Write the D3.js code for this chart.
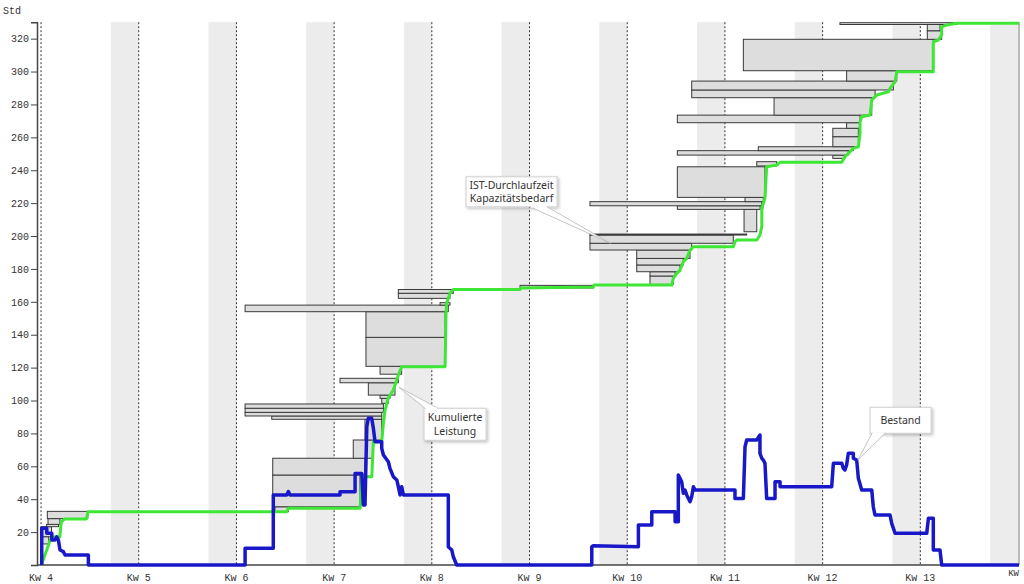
<!DOCTYPE html>
<html>
<head>
<meta charset="utf-8">
<script src="https://cdn.jsdelivr.net/npm/d3@7"></script>
<style>
  body { margin: 0; background: #fff; }
  svg { display: block; }
</style>
</head>
<body>
<div id="chart"></div>
<script>
// Kalenderwochen (Montag 0:00), x in Tagen ab Kw 4
const weeks = [4, 5, 6, 7, 8, 9, 10, 11, 12, 13];
const yTicks = [20, 40, 60, 80, 100, 120, 140, 160, 180, 200, 220, 240, 260, 280, 300, 320];

// Kumulierte Leistung [Tag, Std]
const leistung = [
  [0.02, 0], [0.74, 17], [1.34, 17], [1.45, 26.3], [1.7, 28], [3.25, 28], [3.37, 32.4],
  [17.6, 32.4], [17.72, 34.5], [22.86, 34.5], [22.98, 53.7], [23.7, 53.7], [23.81, 75],
  [24.41, 75], [24.53, 86.3], [24.65, 94.2], [24.88, 101.5], [25.24, 106.4], [25.49, 112.5],
  [25.6, 115.5], [25.84, 120.5], [28.95, 120.5], [29.02, 154], [29.07, 159.3], [29.3, 165.3],
  [29.54, 167.5], [34.32, 167.5], [34.39, 168.4], [39.57, 169], [39.62, 170.2], [45.19, 170.2],
  [45.3, 174.3], [45.55, 177.3], [45.78, 179.3], [46.02, 184.4], [46.26, 186.4], [46.5, 191.5],
  [46.74, 193.5], [49.6, 193.5], [49.72, 196.5], [49.85, 197.6], [51.28, 197.6], [51.51, 200.6],
  [51.64, 205.7], [51.64, 215.8], [51.75, 219.9], [51.87, 222.9], [51.99, 242.1], [52.71, 243.2],
  [52.95, 244.8], [57.37, 244.8], [57.6, 248.2], [57.96, 251.2], [58.2, 253.3], [58.56, 254.3],
  [58.68, 262.4], [58.68, 269.5], [58.8, 272.5], [59.4, 273.6], [59.52, 282.7], [59.88, 285.7],
  [60.71, 287.7], [60.83, 289.8], [61.19, 293.8], [61.31, 299.9], [63.93, 299.9], [63.93, 318.1],
  [64.29, 319.1], [64.53, 322.2], [64.53, 327.2], [64.89, 328.3], [65.6, 329.3], [70.07, 329.3]
];

// Bestand [Tag, Std]
const bestand = [
  [0.05, 0], [0.05, 22.3], [0.41, 22.3], [0.41, 19.3], [0.77, 19.3], [0.77, 15.2], [1.0, 15.2],
  [1.12, 17.2], [1.24, 15.2], [1.36, 9.1], [1.6, 8.1], [1.72, 6.1], [3.39, 6.1], [3.39, 0],
  [14.62, 0], [14.62, 10.2], [16.64, 10.2], [16.64, 42.6], [17.6, 42.6], [17.72, 44.6],
  [17.84, 42.6], [21.42, 42.6], [21.42, 44.6], [22.5, 44.6], [22.5, 55.7], [22.98, 55.7],
  [23.09, 36.5], [23.21, 36.5], [23.34, 84.1], [23.45, 89.2], [23.69, 89.2], [23.81, 83.1],
  [23.93, 75], [24.41, 75], [24.41, 70.9], [24.53, 66.9], [24.88, 62.8], [25.0, 58.8],
  [25.24, 53.7], [25.49, 51.7], [25.6, 47.6], [25.72, 42.6], [25.84, 47.6], [25.96, 42.6],
  [29.18, 42.6], [29.18, 11.1], [29.43, 9.1], [29.54, 5], [29.78, 0], [39.46, 0],
  [39.46, 11.1], [39.57, 11.7], [42.8, 11.1], [42.8, 24.3], [43.76, 24.3], [43.76, 32.4],
  [45.43, 32.4], [45.43, 26.3], [45.66, 26.3], [45.66, 54.7], [45.78, 52.7], [45.9, 50.6],
  [46.02, 43.6], [46.14, 45.6], [46.26, 42.6], [46.5, 38.5], [46.62, 41.5], [46.74, 47.6],
  [46.86, 45.6], [49.72, 45.6], [49.72, 40.5], [50.32, 40.5], [50.44, 71.9], [50.56, 76],
  [51.28, 76], [51.51, 79], [51.51, 67.9], [51.64, 64.9], [51.75, 63.8], [51.87, 61.8],
  [51.99, 40.5], [52.59, 40.5], [52.59, 50.6], [52.95, 50.6], [52.95, 47.6], [56.65, 47.6],
  [56.77, 61.8], [57.37, 61.8], [57.48, 58.8], [57.6, 57.8], [57.72, 60.8], [57.84, 67.9],
  [58.2, 67.9], [58.2, 64.9], [58.44, 63.8], [58.56, 52.7], [58.8, 45.6], [59.52, 45.6],
  [59.63, 35.4], [59.75, 30.4], [60.83, 30.4], [60.95, 25.3], [61.19, 19.3], [63.46, 19.3],
  [63.58, 28.4], [63.93, 28.4], [63.93, 9.1], [64.41, 9.1], [64.53, 0], [70.07, 0]
];

// IST-Durchlaufzeit / Kapazitätsbedarf je Auftrag: [Start, Ende, Std von, Std bis]
const auftraege = [
  [0.0, 0.55, 12.8, 17.2], [0.0, 0.75, 17.2, 23.3], [0.4, 1.25, 23.3, 24.7],
  [0.5, 1.35, 24.7, 28.2], [0.45, 3.35, 28.2, 32.6],
  [16.76, 17.72, 32.4, 35.4], [16.6, 22.85, 35.4, 54.7], [16.6, 23.21, 54.7, 64.9],
  [22.37, 23.8, 64.9, 76], [23.21, 24.41, 76, 88.6], [16.53, 24.41, 88.6, 90.6],
  [14.62, 24.41, 90.6, 92.8], [14.62, 24.53, 92.8, 95.3], [14.62, 24.53, 95.3, 97.9],
  [24.41, 24.88, 98.3, 101.3], [24.29, 25.0, 101.3, 103.3], [23.45, 25.36, 103.3, 110.8],
  [21.42, 25.6, 110.8, 113.5], [24.29, 25.84, 116, 120.8], [23.28, 28.95, 120.8, 138.4],
  [23.28, 28.95, 138.4, 154], [14.62, 29.18, 154, 158], [28.59, 29.3, 158, 159.5],
  [25.6, 29.3, 162.1, 165.2], [25.6, 29.54, 165.2, 167.5],
  [34.32, 39.57, 168.4, 170],
  [43.63, 45.3, 170.6, 175.7], [43.63, 45.43, 175.7, 178.3], [42.68, 45.78, 178.3, 182.4],
  [42.68, 46.02, 182.4, 186.4], [42.68, 46.5, 186.4, 191.5], [39.33, 46.62, 191.5, 195.6],
  [39.33, 49.6, 195.6, 200.6], [39.33, 50.56, 200.6, 201.2], [50.37, 51.28, 202.6, 216.2],
  [45.59, 51.52, 216.2, 218.4], [39.33, 51.64, 218.4, 220.9], [50.44, 51.75, 220.9, 223.5],
  [45.59, 51.87, 223.5, 242.1], [51.28, 52.71, 242.6, 245.2],
  [56.73, 57.6, 247.2, 249.2], [45.59, 57.84, 249.2, 251.9], [51.39, 58.2, 251.9, 254.3],
  [56.73, 58.56, 254.3, 260.4], [56.73, 58.56, 260.4, 265.5], [57.72, 58.68, 265.5, 268.9],
  [45.59, 58.68, 268.9, 273.5], [52.52, 59.52, 273.5, 284.1], [46.62, 59.76, 284.1, 288.8],
  [46.62, 61.07, 288.8, 294.2], [57.72, 61.31, 294.2, 300.5], [50.32, 63.93, 300.5, 319.6],
  [63.5, 64.53, 319.6, 324.8], [63.5, 64.41, 324.8, 328.6], [57.24, 65.6, 328.6, 329.7]
];

// Beschriftungen: Text, Box (Tag/Std links oben, Breite/Höhe in px), Spitze [Tag, Std]
const callouts = [
  { lines: ["IST-Durchlaufzeit", "Kapazitätsbedarf"], at: [30.45, 236], w: 91, h: 30, tip: [40.8, 195.6], base: [64, 81] },
  { lines: ["Kumulierte", "Leistung"], at: [27.44, 95.3], w: 62, h: 32, tip: [25.65, 108], base: [1, 14], top: true },
  { lines: ["Bestand"], at: [59.4, 95.9], w: 61, h: 26, tip: [58.52, 63.8], base: [2, 15] }
];

const width = 1024, height = 584;
const x = d3.scaleLinear().domain([-0.29, 70.07]).range([37, 1019]);
const y = d3.scaleLinear().domain([0, 330]).range([565, 22.2]);

const svg = d3.select("#chart").append("svg")
  .attr("width", width)
  .attr("height", height);

const defs = svg.append("defs");
defs.append("filter").attr("id", "shadow")
  .attr("x", "-20%").attr("y", "-20%").attr("width", "150%").attr("height", "160%")
  .append("feDropShadow")
  .attr("dx", 1.5).attr("dy", 1.5).attr("stdDeviation", 1.5)
  .attr("flood-color", "#000").attr("flood-opacity", 0.25);

const plotTop = y(330), plotBottom = y(0);

// Wochenende grau
svg.append("g").selectAll("rect")
  .data(weeks)
  .enter()
  .append("rect")
  .attr("x", w => x((w - 4) * 7 + 5))
  .attr("y", plotTop)
  .attr("width", w => x((w - 4) * 7 + 7) - x((w - 4) * 7 + 5))
  .attr("height", plotBottom - plotTop)
  .attr("fill", "#ececec");

// Wochenlinien gepunktet
svg.append("g").selectAll("line")
  .data(weeks)
  .enter()
  .append("line")
  .attr("x1", w => x((w - 4) * 7))
  .attr("x2", w => x((w - 4) * 7))
  .attr("y1", plotTop)
  .attr("y2", plotBottom)
  .attr("stroke", "#333")
  .attr("stroke-width", 1)
  .attr("stroke-dasharray", "2,2");

// Aufträge als Balken
svg.append("g").selectAll("rect")
  .data(auftraege)
  .enter()
  .append("rect")
  .attr("x", d => x(d[0]))
  .attr("y", d => y(d[3]))
  .attr("width", d => x(d[1]) - x(d[0]))
  .attr("height", d => Math.max(0.8, y(d[2]) - y(d[3])))
  .attr("fill", "#dddddd")
  .attr("stroke", "#3a3a3a")
  .attr("stroke-width", 1);

// Achsen
const yAxis = d3.axisLeft(y).tickValues(yTicks).tickSize(6).tickPadding(2);
const gy = svg.append("g").attr("transform", "translate(37,0)").call(yAxis);
gy.select(".domain").attr("stroke", "#444").attr("stroke-width", 1.5);
gy.selectAll(".tick line").attr("stroke", "#444");
gy.selectAll("text")
  .attr("font-family", "Liberation Mono, DejaVu Sans Mono, monospace")
  .attr("font-size", 10)
  .attr("fill", "#333");

svg.append("line")
  .attr("x1", 37).attr("x2", x(70.07))
  .attr("y1", plotBottom).attr("y2", plotBottom)
  .attr("stroke", "#444").attr("stroke-width", 1.5);
svg.append("line")
  .attr("x1", x(70.07)).attr("x2", x(70.07))
  .attr("y1", plotTop).attr("y2", plotBottom)
  .attr("stroke", "#777").attr("stroke-width", 1);

svg.append("g").selectAll("text")
  .data(weeks)
  .enter()
  .append("text")
  .attr("x", w => x((w - 4) * 7))
  .attr("y", 581)
  .attr("text-anchor", "middle")
  .attr("font-family", "Liberation Mono, DejaVu Sans Mono, monospace")
  .attr("font-size", 10)
  .attr("fill", "#333")
  .text(w => "Kw " + w);

svg.append("text")
  .attr("x", 1019).attr("y", 576)
  .attr("text-anchor", "end")
  .attr("font-family", "Liberation Mono, DejaVu Sans Mono, monospace")
  .attr("font-size", 9)
  .attr("fill", "#333")
  .text("KW");

svg.append("text")
  .attr("x", 3).attr("y", 14)
  .attr("font-family", "Liberation Mono, DejaVu Sans Mono, monospace")
  .attr("font-size", 10)
  .attr("fill", "#333")
  .text("Std");

// Linien
const line = d3.line().x(d => x(d[0])).y(d => y(d[1]));

svg.append("path")
  .datum(leistung)
  .attr("fill", "none")
  .attr("stroke", "#3ee636")
  .attr("stroke-width", 3)
  .attr("stroke-linejoin", "round")
  .attr("d", line);

svg.append("path")
  .datum(bestand)
  .attr("fill", "none")
  .attr("stroke", "#1818c8")
  .attr("stroke-width", 3.5)
  .attr("stroke-linejoin", "round")
  .attr("d", line);

// Sprechblasen
const notes = svg.append("g")
  .attr("font-family", "Noto Sans, sans-serif")
  .attr("font-size", 10.5)
  .attr("fill", "#333");

callouts.forEach(c => {
  const bx = x(c.at[0]), by = y(c.at[1]);
  const edge = c.top ? by : by + c.h;
  const tail = [[bx + c.base[0], edge], [x(c.tip[0]), y(c.tip[1])], [bx + c.base[1], edge]];

  notes.append("rect")
    .attr("x", bx).attr("y", by)
    .attr("width", c.w).attr("height", c.h)
    .attr("fill", "#fff")
    .attr("stroke", "#cfcfcf")
    .attr("filter", "url(#shadow)");

  notes.append("path")
    .attr("d", d3.line()(tail))
    .attr("fill", "#fff")
    .attr("stroke", "#b5b5b5")
    .attr("stroke-width", 0.8);

  // Kante zwischen Box und Spitze überdecken
  notes.append("line")
    .attr("x1", bx + c.base[0] + 0.8).attr("x2", bx + c.base[1] - 0.8)
    .attr("y1", edge).attr("y2", edge)
    .attr("stroke", "#fff").attr("stroke-width", 1.5);

  const lh = 13.5;
  const y0 = by + c.h / 2 - (c.lines.length - 1) * lh / 2 + 3.8;
  c.lines.forEach((t, i) => {
    notes.append("text")
      .attr("x", bx + c.w / 2)
      .attr("y", y0 + i * lh)
      .attr("text-anchor", "middle")
      .text(t);
  });
});
</script>
</body>
</html>
